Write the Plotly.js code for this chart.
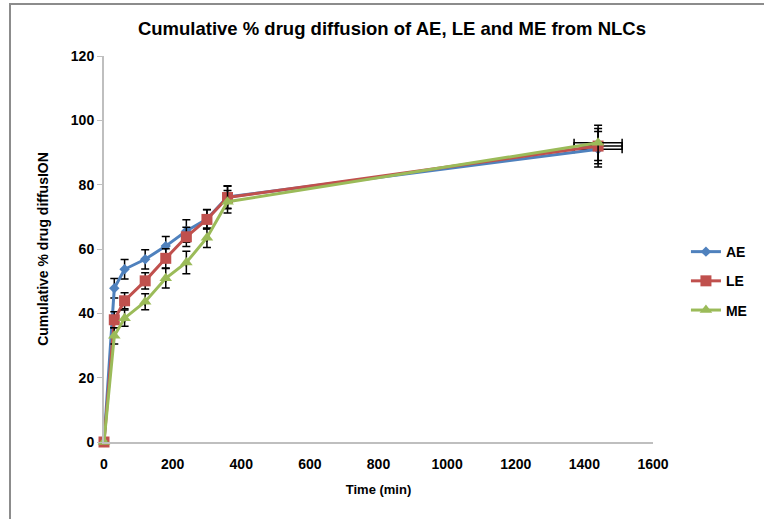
<!DOCTYPE html>
<html>
<head>
<meta charset="utf-8">
<script src="https://cdn.plot.ly/plotly-3.0.1.min.js"></script>
<style>
  html, body { margin: 0; padding: 0; background: #fff; }
  #wrap { position: relative; width: 764px; height: 519px; }
  #chart { position: absolute; left: 0; top: 0; width: 764px; height: 519px; }
  #frameTop { position: absolute; left: 9px; top: 3px; width: 755px; height: 2px; background: #8c8c8c; }
  #frameLeft { position: absolute; left: 9px; top: 3px; width: 2px; height: 516px; background: #8c8c8c; }
</style>
</head>
<body>
<div id="wrap">
  <div id="chart"></div>
  <div id="frameTop"></div>
  <div id="frameLeft"></div>
</div>
<script>
const timeMin = [0, 30, 60, 120, 180, 240, 300, 360, 1440];
const aeValues = [0, 47.8, 53.7, 56.8, 60.9, 65.6, 69.3, 76.2, 91];
const leValues = [0, 38, 43.9, 50.1, 57.1, 63.8, 69.2, 76, 92];
const meValues = [0, 33, 38.5, 43.6, 50.9, 55.8, 63.5, 74.7, 93];
const aeErrY = [0, 3, 3, 3, 3, 3.5, 3, 3.5, 5.5];
const leErrY = [0, 2.5, 2.5, 2.5, 3, 3, 3, 3.5, 5.5];
const meErrY = [0, 2.5, 2.5, 2.5, 3, 3.5, 3, 3.5, 5.5];
const errX = [0, 0, 0, 0, 0, 0, 0, 0, 70];
const seriesNames = ["AE", "LE", "ME"];
const xTicks = [0, 200, 400, 600, 800, 1000, 1200, 1400, 1600];
const yTicks = [0, 20, 40, 60, 80, 100, 120];

const colors = ["#4F81BD", "#C0504D", "#9BBB59"];
const symbols = ["diamond", "square", "triangle-up"];
const sizes = [8, 11, 11];
const vals = [aeValues, leValues, meValues];
const errs = [aeErrY, leErrY, meErrY];

const traces = vals.map((v, i) => ({
  x: timeMin,
  y: v,
  name: seriesNames[i],
  legendgroup: seriesNames[i],
  type: "scatter",
  mode: "lines+markers",
  cliponaxis: false,
  line: { color: colors[i], width: 3 },
  marker: { color: colors[i], symbol: symbols[i], size: sizes[i] },
  error_y: { type: "data", array: errs[i], visible: true, color: "#000", thickness: 1.5, width: 4 },
  error_x: { type: "data", array: errX, visible: true, color: "#000", thickness: 1.5, width: 4 }
}));

const font = { family: "Liberation Sans, Arial, sans-serif", color: "#000" };

const layout = {
  width: 764, height: 519,
  margin: { l: 104, r: 108, t: 56, b: 77 },
  paper_bgcolor: "#fff", plot_bgcolor: "#fff",
  title: {
    text: "<b>Cumulative % drug diffusion of AE, LE and ME from NLCs</b>",
    font: { family: "Liberation Sans, Arial, sans-serif", size: 18.5, color: "#000" },
    x: 0.513, xanchor: "center", y: 0.946, yanchor: "middle"
  },
  xaxis: {
    range: [0, 1600], tickvals: xTicks, ticktext: xTicks.map(String),
    showgrid: false, zeroline: false, showline: true, linecolor: "#BFBFBF", linewidth: 2,
    ticks: "", ticklabelstandoff: 8,
    tickfont: Object.assign({ size: 14, weight: "bold" }, font),
    title: { text: "<b>Time (min)</b>", font: Object.assign({ size: 13 }, font), standoff: 14 }
  },
  yaxis: {
    range: [0, 120], tickvals: yTicks, ticktext: yTicks.map(String),
    showgrid: false, zeroline: false, showline: true, linecolor: "#BFBFBF", linewidth: 2,
    ticks: "outside", ticklen: 5, tickcolor: "#BFBFBF",
    tickfont: Object.assign({ size: 14, weight: "bold" }, font),
    title: { text: "<b>Cumulative % drug diffusION</b>", font: Object.assign({ size: 14 }, font), standoff: 19 }
  },
  legend: {
    x: 1.06, xanchor: "left", y: 0.417, yanchor: "middle",
    font: Object.assign({ size: 14, weight: "bold" }, font),
    tracegroupgap: 8, itemwidth: 30, bgcolor: "rgba(0,0,0,0)"
  },
  showlegend: true
};

Plotly.newPlot("chart", traces, layout, { displayModeBar: false, staticPlot: true });
</script>
</body>
</html>
